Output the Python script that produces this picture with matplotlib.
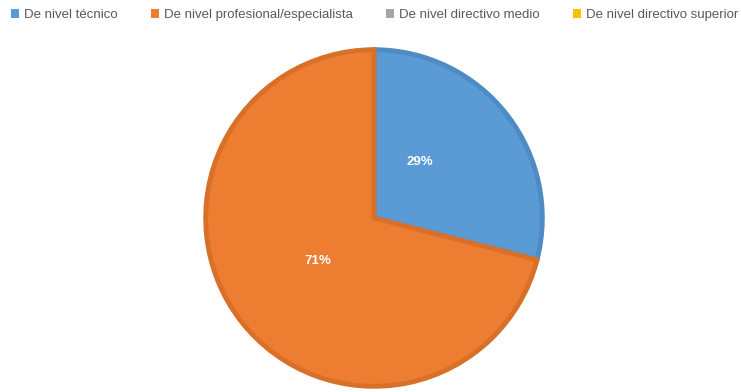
import matplotlib
matplotlib.use("Agg")
import matplotlib.pyplot as plt
from matplotlib.patches import Patch

categories = ["De nivel técnico", "De nivel profesional/especialista",
              "De nivel directivo medio", "De nivel directivo superior"]
values = [29, 71, 0, 0]
colors = ["#5B9BD5", "#ED7D31", "#A5A5A5", "#FFC000"]
edges = ["#4E8AC3", "#D8702A", "#999999", "#E6AD00"]

plt.rcParams['font.family'] = ['Liberation Sans', 'DejaVu Sans']

fig = plt.figure(figsize=(7.41, 3.92), dpi=100)
W, H = 741, 392
cx, cy, r = 374, 218, 170
ax = fig.add_axes([(cx - r) / W, (H - cy - r) / H, 2 * r / W, 2 * r / H])

# only draw non-zero slices
vals = [v for v in values if v > 0]
cols = [c for v, c in zip(values, colors) if v > 0]
edc = [c for v, c in zip(values, edges) if v > 0]

wedges, texts, autotexts = ax.pie(vals, colors=cols, startangle=90, counterclock=False,
                                  autopct='%1.0f%%', pctdistance=0.42,
                                  wedgeprops=dict(linewidth=3.5, joinstyle='miter'),
                                  textprops=dict(color='white', fontsize=9.5, fontweight='bold'))
for w, e in zip(wedges, edc):
    w.set_edgecolor(e)
autotexts[0].set_position((0.27, 0.33))

ax.set_xlim(-1.01, 1.01)
ax.set_ylim(-1.01, 1.01)
ax.set_aspect('equal')
ax.axis('off')

handles = [Patch(facecolor=c, edgecolor='none') for c in colors]
leg = fig.legend(handles, categories, ncol=4, loc='upper left', bbox_to_anchor=(0.003, 1.0),
                 frameon=False, fontsize=9.5, handlelength=0.6, handleheight=0.6,
                 handletextpad=0.35, columnspacing=2.55, borderaxespad=0.3)
for t in leg.get_texts():
    t.set_color('#595959')

fig.savefig("out.png", dpi=100)
